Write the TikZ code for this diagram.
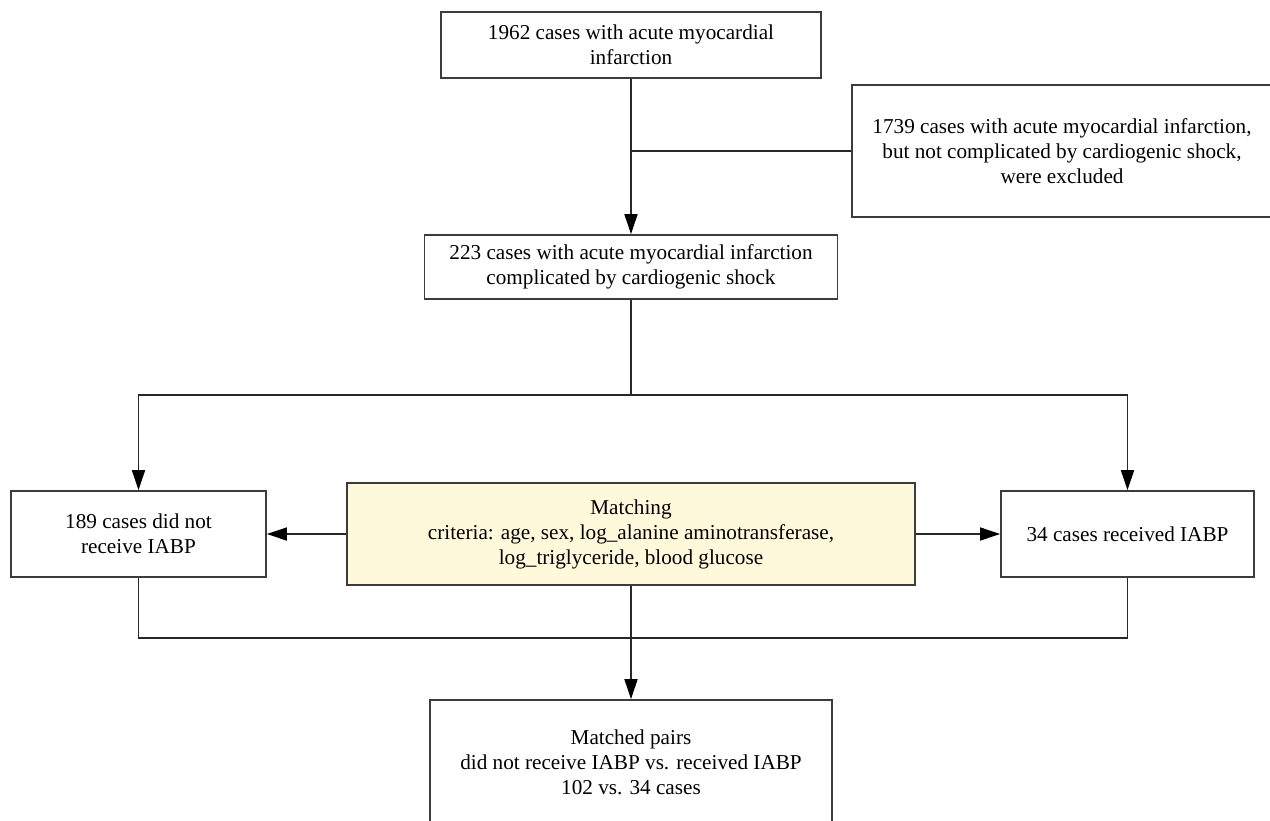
\documentclass[tikz,border=0pt]{standalone}
\usepackage{fontspec}
\setmainfont{Liberation Serif}
\usetikzlibrary{arrows.meta}
\definecolor{boxline}{RGB}{60,60,60}
\definecolor{lineclr}{RGB}{40,40,40}
\definecolor{matchfill}{RGB}{255,249,219}
\tikzset{
  txt/.style={align=center, font=\fontsize{21.2}{25}\selectfont},
  flowbox/.style={txt, draw=boxline, line width=1.7pt, fill=white, inner sep=0pt},
  conn/.style={draw=lineclr, line width=1.6pt},
  arr/.style={conn, -{Triangle[length=20pt,width=13pt,color=black]}},
}
\begin{document}
\begin{tikzpicture}[x=1pt,y=-1pt]
\useasboundingbox (0,0) rectangle (1270,820);
\node[flowbox, minimum width=380pt, minimum height=66pt] (top) at (631,45)
  {1962 cases with acute myocardial\\infarction};
\node[flowbox, minimum width=420pt, minimum height=132pt] (excl) at (1062,151) {};
\node[txt] (excltext) at (1062,151)
  {1739 cases with acute myocardial infarction,\\but not complicated by cardiogenic shock,\\were excluded};
\node[flowbox, minimum width=413pt, minimum height=64pt] (shock) at (631,267)
  {223 cases with acute myocardial infarction\\complicated by cardiogenic shock};
\node[flowbox, minimum width=255pt, minimum height=86pt] (noiabp) at (138.5,534)
  {189 cases did not\\receive IABP};
\node[flowbox, fill=matchfill, minimum width=568pt, minimum height=102pt] (match) at (631,534)
  {Matching\\criteria: age, sex, log\_alanine aminotransferase,\\log\_triglyceride, blood glucose};
\node[flowbox, minimum width=253pt, minimum height=86pt] (iabp) at (1127.5,534)
  {34 cases received IABP};
\node[flowbox, minimum width=402pt, minimum height=124pt] (pairs) at (631,762)
  {Matched pairs\\did not receive IABP vs. received IABP\\102 vs. 34 cases};

\coordinate (excljoin) at (top.south |- excl.west);
\coordinate (split) at (631,395);
\coordinate (mergeL) at (noiabp.south |- 0,638);
\coordinate (mergeR) at (iabp.south |- 0,638);

\draw[arr] (top.south) -- (shock.north);
\draw[conn] (excljoin) -- (excl.west);
\draw[conn] (shock.south) -- (split);
\draw[arr] (split) -| (noiabp.north);
\draw[arr] (split) -| (iabp.north);
\draw[arr] (match.west) -- (noiabp.east);
\draw[arr] (match.east) -- (iabp.west);
\draw[conn] (noiabp.south) -- (mergeL) -- (mergeR) -- (iabp.south);
\draw[arr] (match.south) -- (pairs.north);
\end{tikzpicture}
\end{document}
